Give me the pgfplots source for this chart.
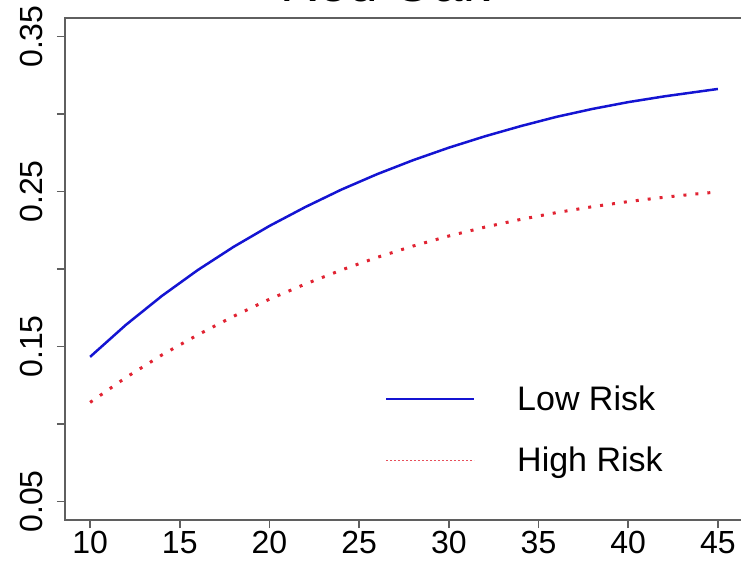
\documentclass[border=0pt]{standalone}
\usepackage{fontspec}
\setmainfont{Liberation Sans}
\usepackage{pgfplots}
\usepackage{pgfplotstable}
\pgfplotsset{compat=1.18}
\definecolor{lowblue}{RGB}{20,20,210}
\definecolor{highred}{RGB}{225,35,50}
\definecolor{axgray}{RGB}{95,95,95}

\pgfplotstableread{
x y
10 0.1433
12 0.1640
14 0.1826
16 0.1993
18 0.2143
20 0.2278
22 0.2400
24 0.2512
26 0.2612
28 0.2702
30 0.2783
32 0.2856
34 0.2922
36 0.2982
38 0.3033
40 0.3077
42 0.3114
44 0.3146
45 0.3162
}\lowrisk

\pgfplotstableread{
x y
10 0.1139
12 0.1300
14 0.1445
16 0.1575
18 0.1695
20 0.1805
22 0.1903
24 0.1993
26 0.2075
28 0.2148
30 0.2213
32 0.2270
34 0.2320
36 0.2364
38 0.2402
40 0.2435
42 0.2463
44 0.2487
45 0.2497
}\highrisk

\begin{document}
\begin{tikzpicture}
\clip (-65bp,-41bp) rectangle (676bp,520bp);
\begin{axis}[
  at={(0,0)}, anchor=south west,
  scale only axis, width=678bp, height=502bp,
  xmin=8.6, xmax=46.4, ymin=0.038, ymax=0.362,
  axis line style={axgray, line width=1.5bp},
  every tick/.style={axgray, line width=1.5bp},
  tick align=outside, major tick length=8bp,
  xtick={10,15,...,45},
  ytick={0.05,0.10,0.15,0.20,0.25,0.30,0.35},
  yticklabels={0.05,,0.15,,0.25,,0.35},
  xtick pos=bottom, ytick pos=left,
  /pgf/number format/assume math mode=true,
  tick label style={font=\fontsize{32bp}{38bp}\selectfont, text=black},
  yticklabel style={rotate=90, anchor=south, inner sep=0pt, yshift=14bp},
  xticklabel style={anchor=north, inner sep=0pt, yshift=-3bp},
  title={Red Oak},
  title style={at={(0.472,1.02)}, anchor=base, inner sep=0pt, font=\fontsize{53bp}{60bp}\selectfont},
  legend image code/.code={\draw[#1] (0bp,0bp) -- (88bp,0bp);},
  legend cell align=left,
  legend style={draw=none, fill=none, at={(0.472,0.271)}, anchor=north west,
    inner sep=0pt, font=\fontsize{34bp}{40bp}\selectfont, row sep=31bp,
    /tikz/every odd column/.append style={column sep=40bp}},
]
\addplot[lowblue, line width=2.5bp, forget plot] table {\lowrisk};
\addplot[highred, line width=3bp, dash pattern=on 3bp off 9bp, forget plot] table {\highrisk};
\addlegendimage{lowblue, line width=2bp}
\addlegendentry{Low Risk}
\addlegendimage{highred!80, line width=1.3bp, dash pattern=on 1.5bp off 2.5bp}
\addlegendentry{High Risk}
\end{axis}
\end{tikzpicture}
\end{document}
